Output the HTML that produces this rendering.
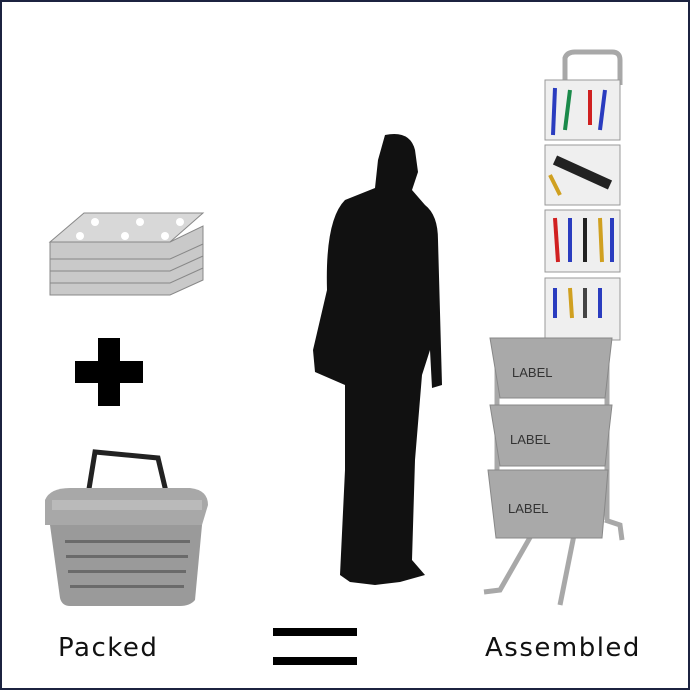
<!DOCTYPE html>
<html><head><meta charset="utf-8"><style>
html,body{margin:0;padding:0;background:#fff}
.w{position:relative;width:690px;height:690px;box-sizing:border-box;border:2px solid #1c2340;background:#fff;overflow:hidden}
.t{position:absolute;font-family:"DejaVu Sans","Liberation Sans",sans-serif;font-size:26px;letter-spacing:1.5px;color:#111}
</style></head><body><div class="w">
<svg width="690" height="690" viewBox="0 0 690 690" style="position:absolute;left:-2px;top:-2px">
<g fill="#c9c9c9" stroke="#888" stroke-width="1">
<polygon points="50,278 170,278 203,262 203,280 170,295 50,295"/>
<polygon points="50,266 170,266 203,250 203,268 170,283 50,283"/>
<polygon points="50,254 170,254 203,238 203,256 170,271 50,271"/>
<polygon points="50,242 170,242 203,226 203,244 170,259 50,259"/>
<polygon points="50,242 84,213 203,213 170,242" fill="#d8d8d8"/>
</g>
<g fill="#fff"><circle cx="95" cy="222" r="4"/><circle cx="140" cy="222" r="4"/><circle cx="180" cy="222" r="4"/><circle cx="80" cy="236" r="4"/><circle cx="125" cy="236" r="4"/><circle cx="165" cy="236" r="4"/></g>
<rect x="98" y="338" width="22" height="68" fill="#000"/><rect x="75" y="361" width="68" height="22" fill="#000"/>
<path d="M88,495 L95,452 L158,458 L168,500" fill="none" stroke="#222" stroke-width="5"/>
<path d="M45,500 Q50,488 70,488 L190,488 Q208,490 208,505 L202,525 L45,525Z" fill="#a8a8a8"/>
<path d="M50,525 L202,525 L195,600 Q190,606 180,606 L70,606 Q62,606 60,598Z" fill="#9a9a9a"/>
<rect x="52" y="500" width="150" height="10" fill="#bababa"/>
<g fill="#6a6a6a"><rect x="65" y="540" width="125" height="3"/><rect x="66" y="555" width="122" height="3"/><rect x="68" y="570" width="118" height="3"/><rect x="70" y="585" width="114" height="3"/></g>
<path fill="#111" d="M385,135 Q410,130 415,150 L418,172 L412,190 L425,205 Q438,215 438,240 L442,385 L432,388 L430,350 L422,375 L415,460 L412,560 L425,575 L400,582 L375,585 L350,582 L340,575 L345,470 L345,385 L315,372 L313,350 L327,290 Q325,220 345,200 L375,188 L378,160 Z"/>
<rect x="273" y="628" width="84" height="8" fill="#000"/><rect x="273" y="657" width="84" height="8" fill="#000"/>
<g fill="none" stroke="#a8a8a8" stroke-width="5">
<path d="M565,80 L565,58 Q567,52 575,52 L612,52 Q620,52 620,60 L620,85"/>
<path d="M540,520 L500,590 L484,592"/><path d="M605,520 L620,525 L622,540"/><path d="M575,530 L560,605"/>
<line x1="607" y1="330" x2="607" y2="520"/><line x1="497" y1="340" x2="497" y2="520"/>
</g>
<g fill="#efefef" stroke="#999">
<rect x="545" y="80" width="75" height="60"/><rect x="545" y="145" width="75" height="60"/><rect x="545" y="210" width="75" height="62"/><rect x="545" y="278" width="75" height="62"/>
</g>
<g stroke-width="4" fill="none">
<path d="M555,88 L553,135" stroke="#2a3cbf"/><path d="M570,90 L565,130" stroke="#1a8a4a"/><path d="M590,90 L590,125" stroke="#d02020"/><path d="M605,90 L600,130" stroke="#2a3cbf"/>
<path d="M555,160 L610,185" stroke="#222" stroke-width="10"/><path d="M550,175 L560,195" stroke="#d0a020"/>
<path d="M555,218 L558,262" stroke="#d02020"/><path d="M570,218 L570,262" stroke="#2a3cbf"/><path d="M585,218 L585,262" stroke="#222"/><path d="M600,218 L602,262" stroke="#d0a020"/><path d="M612,218 L612,262" stroke="#2a3cbf"/>
<path d="M555,288 L555,318" stroke="#2a3cbf"/><path d="M570,288 L572,318" stroke="#d0a020"/><path d="M585,288 L585,318" stroke="#444"/><path d="M600,288 L600,318" stroke="#2a3cbf"/>
</g>
<g fill="#a9a9a9" stroke="#888">
<path d="M490,338 L612,338 L605,398 L500,398Z"/>
<path d="M490,405 L612,405 L605,466 L500,466Z"/>
<path d="M488,470 L608,470 L602,538 L496,538Z"/>
</g>
<g font-family="Liberation Sans,sans-serif" font-size="13" fill="#333"><text x="512" y="377">LABEL</text><text x="510" y="444">LABEL</text><text x="508" y="513">LABEL</text></g>
</svg>
<div class="t" style="left:56px;top:631px">Packed</div>
<div class="t" style="left:483px;top:631px">Assembled</div>
</div></body></html>
